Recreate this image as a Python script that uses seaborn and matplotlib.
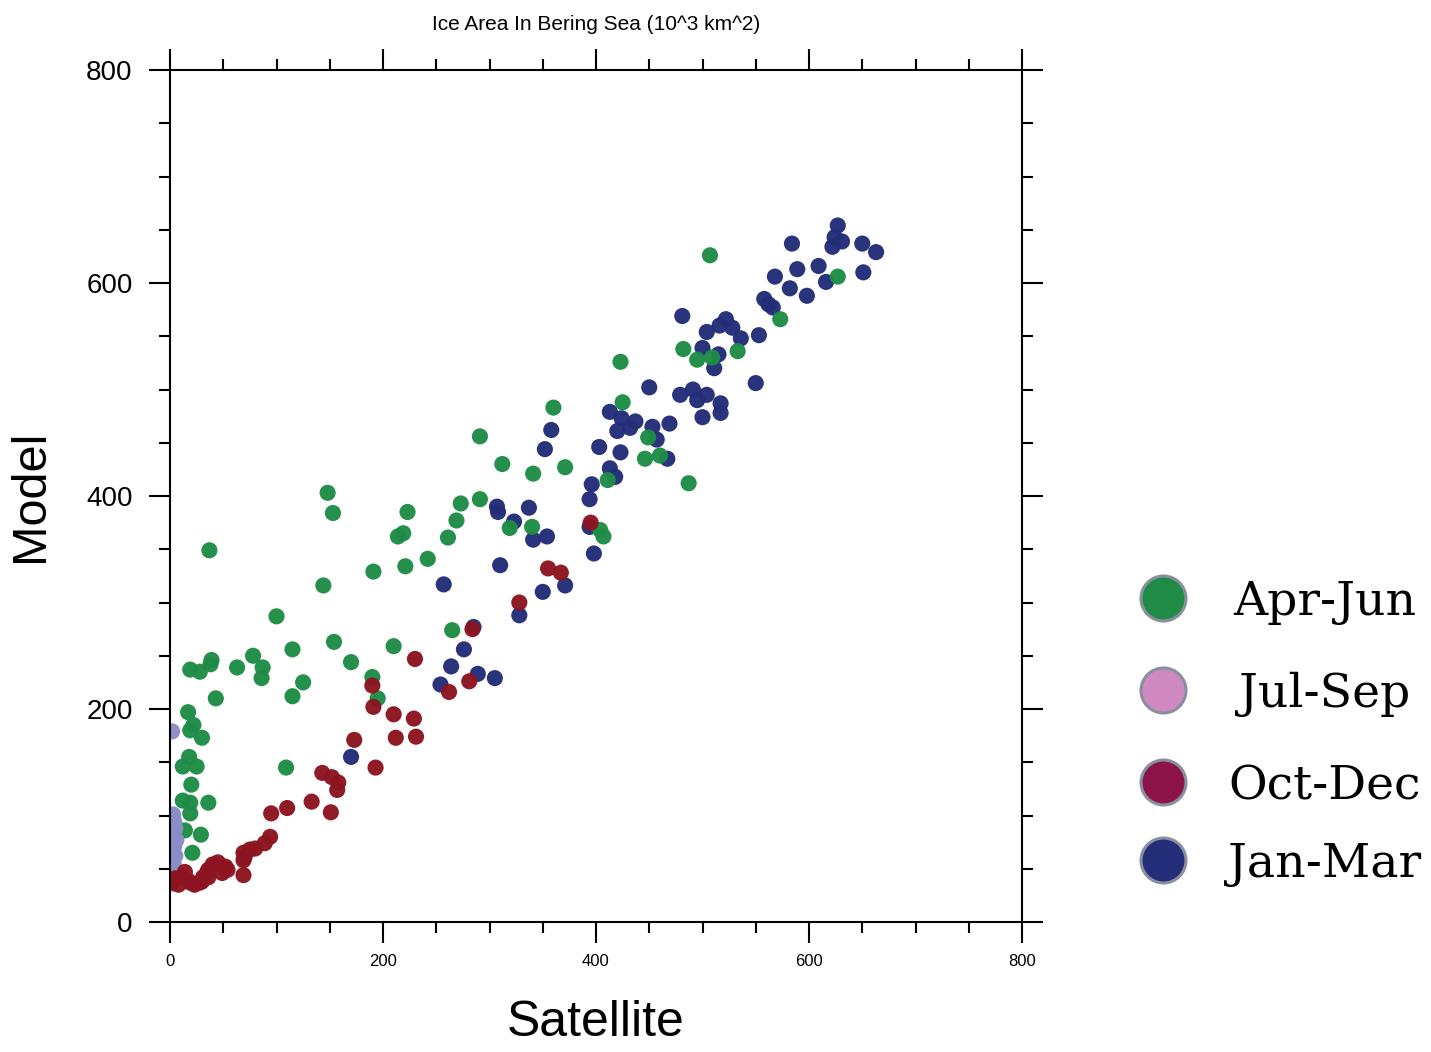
import pandas as pd
import matplotlib.pyplot as plt
import seaborn as sns
from matplotlib.ticker import MultipleLocator


# ==========================================================
# Data (satellite vs model ice area, 10^3 km^2)
# ==========================================================

title = "Ice Area In Bering Sea (10^3 km^2)"

seasons = ["Jan-Mar", "Apr-Jun", "Jul-Sep", "Oct-Dec"]      # drawing order
legend_order = ["Apr-Jun", "Jul-Sep", "Oct-Dec", "Jan-Mar"]

jan_sat = [627, 624, 631, 622, 584, 650, 663, 589, 609, 568, 616, 651, 582, 598,
           558, 562, 566, 481, 522, 516, 528, 504, 536, 553, 500, 515, 511, 550,
           450, 479, 491, 504, 495, 517, 517, 500, 413, 424, 437, 420, 432, 453,
           469, 457, 403, 423, 467, 358, 352, 413, 418, 396, 394, 394, 398, 307,
           308, 337, 323, 341, 354, 310, 257, 350, 371, 328, 285, 276, 264, 254,
           289, 305, 170]
jan_mod = [654, 643, 639, 634, 637, 637, 629, 613, 616, 606, 601, 610, 595, 588,
           585, 580, 577, 569, 566, 560, 558, 554, 548, 551, 539, 533, 520, 506,
           502, 495, 500, 495, 490, 487, 478, 474, 479, 473, 470, 461, 464, 465,
           468, 453, 446, 441, 435, 462, 444, 426, 418, 411, 397, 371, 346, 390,
           385, 389, 376, 359, 362, 335, 317, 310, 316, 288, 277, 256, 240, 223,
           233, 229, 155]

apr_sat = [507, 627, 573, 482, 495, 509, 533, 423, 425, 449, 446, 460, 487, 411,
           360, 291, 312, 341, 371, 273, 291, 269, 261, 319, 340, 404, 407, 148,
           153, 223, 214, 219, 242, 221, 191, 144, 37, 100, 154, 115, 210, 78,
           39, 38, 28, 19, 63, 87, 86, 170, 125, 115, 190, 195, 43, 17, 22, 19,
           30, 18, 12, 25, 20, 12, 19, 36, 19, 14, 29, 21, 109, 265]
apr_mod = [626, 606, 566, 538, 528, 530, 536, 526, 488, 455, 435, 438, 412, 415,
           483, 456, 430, 421, 427, 393, 397, 377, 361, 370, 371, 368, 362, 403,
           384, 385, 362, 365, 341, 334, 329, 316, 349, 287, 263, 256, 259, 250,
           246, 242, 235, 237, 239, 239, 229, 244, 225, 212, 230, 210, 210, 197,
           185, 180, 173, 155, 146, 146, 129, 114, 112, 112, 102, 86, 82, 65,
           145, 274]

jul_sat = [2, 3, 1, 4, 2, 5, 1, 3, 6, 2, 4, 1, 3, 5, 2, 1, 4, 3, 6, 2, 1, 3, 2]
jul_mod = [179, 101, 97, 94, 90, 88, 84, 81, 77, 75, 71, 68, 66, 62, 59, 57, 53,
           50, 47, 44, 41, 38, 36]

oct_sat = [395, 355, 367, 328, 284, 281, 262, 230, 190, 191, 210, 229, 212, 231,
           173, 193, 143, 152, 158, 157, 133, 151, 95, 110, 94, 89, 80, 75, 69,
           70, 69, 69, 54, 52, 49, 45, 40, 36, 35, 36, 30, 23, 17, 14, 11, 8, 5,
           2, 28, 19, 31]
oct_mod = [375, 332, 328, 300, 275, 226, 216, 247, 222, 202, 195, 191, 173, 174,
           171, 145, 140, 136, 131, 124, 113, 103, 102, 107, 80, 74, 69, 68, 65,
           61, 58, 44, 49, 52, 46, 56, 54, 49, 47, 42, 38, 35, 39, 47, 42, 35, 41,
           37, 37, 37, 42]

point_colors = {
    "Jan-Mar": "#232d78",
    "Apr-Jun": "#1e8c46",
    "Jul-Sep": "#8c8cc8",
    "Oct-Dec": "#8c1420",
}

legend_colors = {
    "Apr-Jun": "#1e8c46",
    "Jul-Sep": "#d088c0",
    "Oct-Dec": "#8c1448",
    "Jan-Mar": "#232d78",
}


# ==========================================================
# Build table
# ==========================================================

frames = [
    pd.DataFrame({"Satellite": jan_sat, "Model": jan_mod, "Season": "Jan-Mar"}),
    pd.DataFrame({"Satellite": apr_sat, "Model": apr_mod, "Season": "Apr-Jun"}),
    pd.DataFrame({"Satellite": jul_sat, "Model": jul_mod, "Season": "Jul-Sep"}),
    pd.DataFrame({"Satellite": oct_sat, "Model": oct_mod, "Season": "Oct-Dec"}),
]
df = pd.concat(frames, ignore_index=True)


# ==========================================================
# Plot
# ==========================================================

sns.set_theme(style="white")
plt.rcParams["font.family"] = ["Liberation Sans", "DejaVu Sans"]
plt.rcParams["text.color"] = "black"
plt.rcParams["axes.labelcolor"] = "black"
plt.rcParams["xtick.color"] = "black"
plt.rcParams["ytick.color"] = "black"

fig = plt.figure(figsize=(14.31, 10.52), dpi=100)
ax = fig.add_axes([170 / 1431, 130 / 1052, 852 / 1431, 852 / 1052])

sns.scatterplot(
    data=df,
    x="Satellite",
    y="Model",
    hue="Season",
    palette=point_colors,
    s=135,
    linewidth=0,
    alpha=0.97,
    legend=False,
    ax=ax
)

ax.set_xlim(0, 800)
ax.set_ylim(0, 800)

ax.xaxis.set_major_locator(MultipleLocator(200))
ax.xaxis.set_minor_locator(MultipleLocator(50))
ax.yaxis.set_major_locator(MultipleLocator(200))
ax.yaxis.set_minor_locator(MultipleLocator(50))

ax.tick_params(which="both", direction="out",
               top=True, right=True, bottom=True, left=True,
               width=1.5, color="black")
ax.tick_params(which="major", length=15)
ax.tick_params(which="minor", length=8)
ax.tick_params(axis="x", which="major", labelsize=12, pad=8)
ax.tick_params(axis="y", which="major", labelsize=20, pad=12)

for spine in ax.spines.values():
    spine.set_linewidth(1.5)
    spine.set_color("black")

ax.set_xlabel("Satellite", fontsize=36, labelpad=22)
ax.set_ylabel("Model", fontsize=35, labelpad=24)
ax.set_title(title, fontsize=15, y=1.0, pad=29)


# --------------------------
# Legend on the right
# --------------------------

leg_ax = fig.add_axes([0, 0, 1, 1])
leg_ax.set_xlim(0, 1431)
leg_ax.set_ylim(1052, 0)
leg_ax.axis("off")

leg_y = [598, 690, 782, 860]

for name, y in zip(legend_order, leg_y):
    leg_ax.scatter(1163, y, s=1050, color=legend_colors[name],
                   edgecolor="#8890a0", linewidth=2.2)
    leg_ax.text(1325, y + 17, name, ha="center", va="baseline",
                fontsize=34, family=["DejaVu Serif"])


fig.savefig("out.png", dpi=100)
plt.close(fig)
